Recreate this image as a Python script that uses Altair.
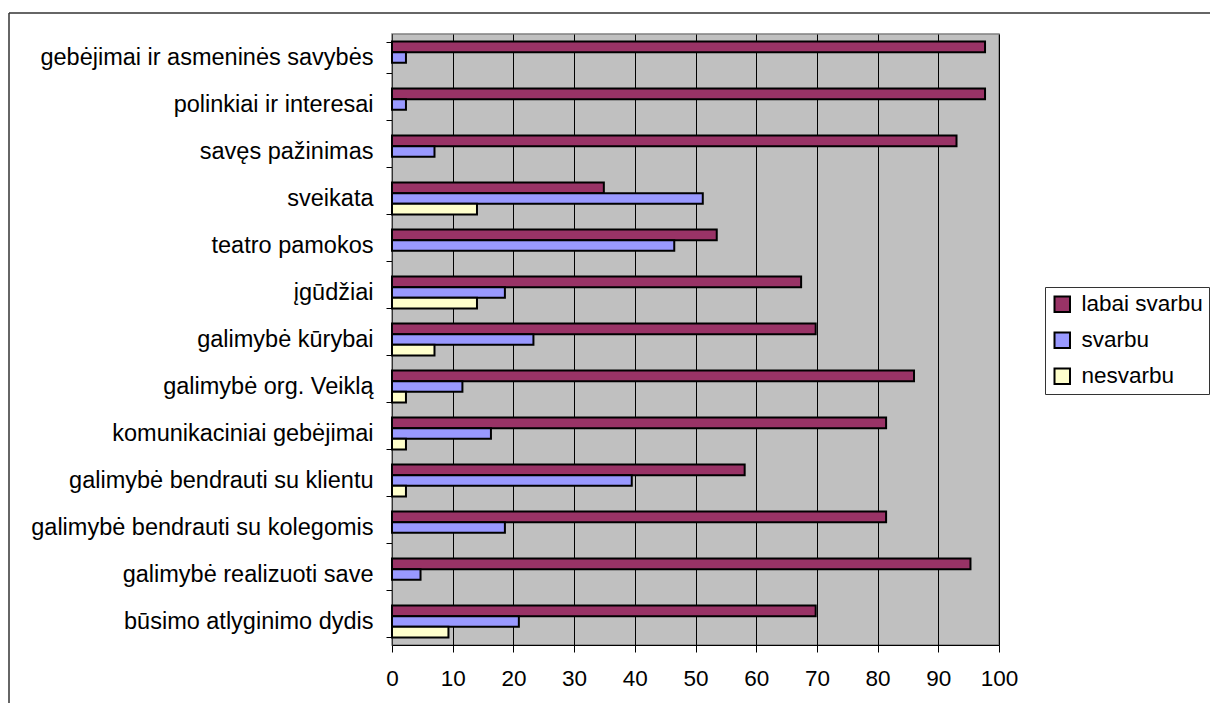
import altair as alt
import pandas as pd

categories = [
    "gebėjimai ir asmeninės savybės",
    "polinkiai ir interesai",
    "savęs pažinimas",
    "sveikata ",
    "teatro pamokos",
    "įgūdžiai",
    "galimybė kūrybai",
    "galimybė org. Veiklą",
    "komunikaciniai gebėjimai",
    "galimybė bendrauti su klientu",
    "galimybė bendrauti su kolegomis",
    "galimybė realizuoti save",
    "būsimo atlyginimo dydis",
]
series = ["labai svarbu", "svarbu", "nesvarbu"]
labai_svarbu = [97.7, 97.7, 93.0, 34.9, 53.5, 67.4, 69.8, 86.0, 81.4, 58.1, 81.4, 95.3, 69.8]
svarbu = [2.3, 2.3, 7.0, 51.2, 46.5, 18.6, 23.3, 11.6, 16.3, 39.5, 18.6, 4.7, 20.9]
nesvarbu = [None, None, None, 14.0, None, 14.0, 7.0, 2.3, 2.3, 2.3, None, None, 9.3]
colors = ["#993366", "#9999FF", "#FFFFCC"]
x_ticks = [0, 10, 20, 30, 40, 50, 60, 70, 80, 90, 100]

rows = []
for i, c in enumerate(categories):
    for s, vals in zip(series, [labai_svarbu, svarbu, nesvarbu]):
        if vals[i] is not None:
            rows.append({"kategorija": c, "vertinimas": s, "procentai": vals[i]})
df = pd.DataFrame(rows)

FONT = "Liberation Sans"

bars = alt.Chart(df).mark_bar(stroke="#000000", strokeWidth=2).encode(
    x=alt.X(
        "procentai:Q",
        scale=alt.Scale(domain=[0, 100], nice=False, zero=True),
        axis=alt.Axis(
            values=x_ticks,
            title=None,
            grid=True,
            gridColor="#000000",
            gridWidth=1,
            gridOpacity=1,
            tickColor="#000000",
            tickSize=7,
            labelPadding=15,
            labelFontSize=22.5,
            labelFont=FONT,
            labelColor="#000000",
            labelFlush=False,
            labelOverlap=False,
            domainColor="#000000",
            domainWidth=1,
        ),
    ),
    y=alt.Y(
        "kategorija:N",
        sort=categories,
        scale=alt.Scale(paddingInner=0.32, paddingOuter=0.16),
        axis=alt.Axis(
            title=None,
            tickBand="extent",
            tickColor="#000000",
            tickSize=6,
            labelPadding=13,
            labelFontSize=23.5,
            labelFont=FONT,
            labelColor="#000000",
            labelLimit=0,
            domainColor="#333333",
            domainWidth=1,
            grid=False,
        ),
    ),
    yOffset=alt.YOffset("vertinimas:N", sort=series, scale=alt.Scale(paddingInner=0, paddingOuter=0)),
    color=alt.Color(
        "vertinimas:N",
        scale=alt.Scale(domain=series, range=colors),
        legend=alt.Legend(
            title=None,
            orient="none",
            legendX=653,
            legendY=253,
            symbolType="square",
            symbolSize=240,
            symbolStrokeColor="#000000",
            symbolStrokeWidth=2,
            symbolOpacity=1,
            labelFontSize=22.5,
            labelFont=FONT,
            labelColor="#000000",
            labelLimit=0,
            rowPadding=12,
            padding=6,
            strokeColor="#333333",
            fillColor="#FFFFFF",
            labelOffset=8,
        ),
    ),
)

left_border = alt.Chart(alt.Data(values=[{}])).mark_rule(color="#333333", strokeWidth=1.5).encode(
    x=alt.value(-383), y=alt.value(-21), y2=alt.value(700)
)
top_border = alt.Chart(alt.Data(values=[{}])).mark_rule(color="#333333", strokeWidth=1.5).encode(
    x=alt.value(-383), x2=alt.value(900), y=alt.value(-21)
)

chart = alt.layer(bars, left_border, top_border).properties(
    width=607,
    height=611,
    autosize=alt.AutoSizeParams(type="none"),
    padding={"left": 384, "top": 26, "right": 211, "bottom": 58},
    background="#FFFFFF",
).configure_view(
    fill="#C0C0C0",
    stroke="#808080",
    strokeWidth=1.5,
)

chart.save("out.html", embed_options={"renderer": "svg", "actions": False})
